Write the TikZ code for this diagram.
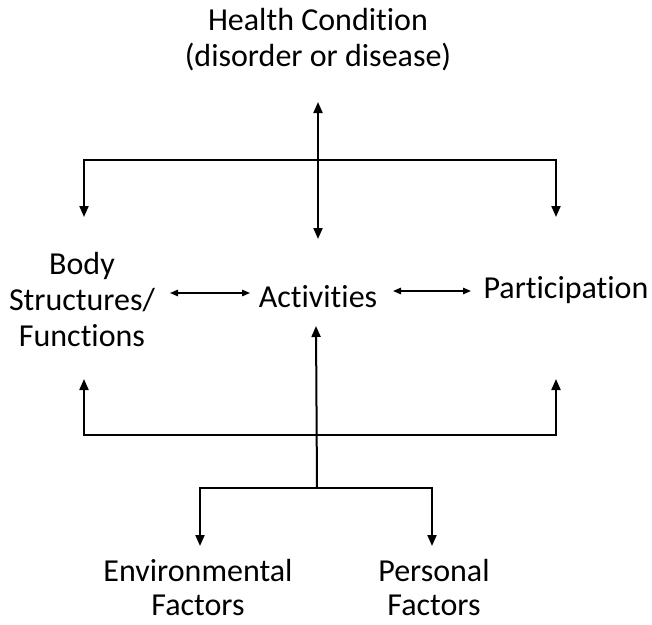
\documentclass[tikz,border=0pt]{standalone}
\usepackage{fontspec}
\setmainfont[Ligatures=NoCommon]{Carlito}
\usetikzlibrary{arrows.meta}
\begin{document}
\begin{tikzpicture}[x=1pt,y=-1pt,
  lbl/.style={align=center,font=\fontsize{32}{36}\selectfont,inner sep=0pt},
  lblb/.style={align=center,font=\fontsize{32}{34}\selectfont,inner sep=0pt},
  conn/.style={line width=2pt,{Triangle[length=11pt,width=9pt]}-{Triangle[length=11pt,width=9pt]}},
  oneway/.style={line width=2pt,-{Triangle[length=11pt,width=9pt]}},
  side/.style={line width=1.4pt,{Triangle[length=8pt,width=6.5pt]}-{Triangle[length=8pt,width=6.5pt]}}]
\useasboundingbox (0,0) rectangle (652,624);
% nodes
\node[lbl] (hc) at (318,40) {Health Condition\\(disorder or disease)};
\node[lbl] (body) at (82,300) {Body\\Structures/\\Functions};
\node[lbl] (act) at (318,297) {Activities};
\node[lbl] (part) at (566,290) {Participation};
\node[lblb] (env) at (198,587) {Environmental\\Factors};
\node[lblb] (pers) at (434,587) {Personal\\Factors};
% connector points
\coordinate (hcTip) at (318,102);
\coordinate (actTop) at (318,239);
\coordinate (tl) at (84,160);
\coordinate (tr) at (556,160);
\coordinate (tlEnd) at (84,217);
\coordinate (trEnd) at (556,217);
\coordinate (bl) at (84,435);
\coordinate (br) at (556,435);
\coordinate (blEnd) at (84,379);
\coordinate (brEnd) at (556,379);
\coordinate (actBot) at (316,326);
\coordinate (bc) at (317,488);
\coordinate (envL) at (200,488);
\coordinate (persR) at (432,488);
\coordinate (envEnd) at (200,546);
\coordinate (persEnd) at (432,546);
\coordinate (bodyR) at (170,293);
\coordinate (actL) at (250,293);
\coordinate (actR) at (393,291);
\coordinate (partL) at (471,291);
% connectors
\draw[conn] (hcTip) -- (actTop);
\draw[conn] (tlEnd) -- (tl) -- (tr) -- (trEnd);
\draw[conn] (blEnd) -- (bl) -- (br) -- (brEnd);
\draw[oneway] (bc) -- (actBot);
\draw[conn] (envEnd) -- (envL) -- (persR) -- (persEnd);
\draw[side] (bodyR) -- (actL);
\draw[side] (actR) -- (partL);
\end{tikzpicture}
\end{document}
